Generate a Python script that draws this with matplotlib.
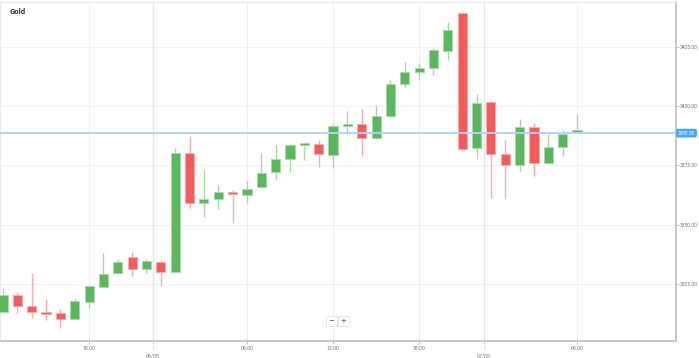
import matplotlib
matplotlib.use("Agg")
import matplotlib.pyplot as plt
import matplotlib.transforms as mtrans
import numpy as np

# ---- data ----
opens = [3313.3, 3320.3, 3315.7, 3313.2, 3312.6, 3310.2, 3317.5, 3323.8, 3329.5, 3336.5,
         3331.4, 3334.4, 3330.1, 3380.0, 3359.0, 3360.7, 3363.7, 3362.4, 3365.7, 3372.0,
         3377.7, 3383.6, 3383.9, 3379.5, 3391.7, 3392.4, 3386.6, 3395.7, 3409.3, 3414.5,
         3416.2, 3423.3, 3439.1, 3382.2, 3401.6, 3379.9, 3375.1, 3391.0, 3375.8, 3382.7,
         3389.0]
highs = [3323.3, 3321.5, 3329.5, 3318.5, 3314.3, 3318.8, 3324.6, 3338.2, 3335.4, 3338.4,
         3335.4, 3335.0, 3382.2, 3387.5, 3373.0, 3366.6, 3364.6, 3368.5, 3380.0, 3383.6,
         3384.0, 3384.5, 3385.5, 3393.0, 3397.9, 3398.6, 3400.4, 3411.0, 3418.4, 3418.0,
         3424.6, 3435.4, 3439.3, 3405.1, 3402.1, 3385.7, 3394.4, 3393.0, 3388.1, 3389.9,
         3396.5]
lows = [3313.0, 3312.6, 3310.5, 3309.8, 3306.3, 3310.0, 3314.7, 3323.5, 3329.3, 3328.3,
        3329.7, 3324.2, 3330.0, 3357.1, 3353.1, 3356.7, 3350.8, 3359.2, 3365.5, 3369.2,
        3372.0, 3377.2, 3374.3, 3373.7, 3388.3, 3378.8, 3386.4, 3395.5, 3407.9, 3411.0,
        3413.1, 3419.4, 3381.0, 3377.5, 3361.3, 3360.8, 3372.7, 3370.5, 3375.6, 3379.0,
        3388.8]
closes = [3320.3, 3315.7, 3313.0, 3312.4, 3310.1, 3317.7, 3324.0, 3329.3, 3334.2, 3331.2,
          3334.7, 3330.1, 3380.0, 3359.0, 3360.7, 3363.6, 3362.8, 3365.1, 3371.6, 3377.5,
          3383.4, 3384.3, 3379.6, 3391.4, 3392.5, 3386.6, 3395.7, 3409.3, 3414.5, 3415.9,
          3423.6, 3432.0, 3381.9, 3401.1, 3379.8, 3375.0, 3391.1, 3375.8, 3382.7, 3388.2,
          3389.7]
time_tick_pos = [6, 17, 23, 29, 40]
time_tick_labels = ["18:00", "06:00", "12:00", "18:00", "06:00"]
date_tick_pos = [10.45, 33.5]
date_tick_labels = ["06/05", "07/05"]
price_ticks = [3325, 3350, 3375, 3400, 3425]
current_price = 3388.58
title = "Gold"

# ---- style ----
GREEN = "#5cb85c"
RED = "#f65a5a"
GREEN_W = "#a9d9a9"
RED_W = "#f9aeae"
W, H = 699, 358

fig = plt.figure(figsize=(W / 100, H / 100), dpi=100)
fig.patch.set_facecolor("white")
ax_l, ax_r, ax_t, ax_b = 0, 676, 2, 341
ax = fig.add_axes([ax_l / W, 1 - ax_b / H, (ax_r - ax_l) / W, (ax_b - ax_t) / H])
ax.set_facecolor("white")

x = np.arange(len(opens))
o = np.array(opens); c = np.array(closes); hi = np.array(highs); lo = np.array(lows)
up = c >= o
body_bot = np.minimum(o, c)
body_h = np.maximum(np.abs(c - o), 0.7)

for mask, col, wcol in [(up, GREEN, GREEN_W), (~up, RED, RED_W)]:
    ax.vlines(x[mask], lo[mask], hi[mask], color=wcol, linewidth=1.0, zorder=2)
    ax.bar(x[mask], body_h[mask], bottom=body_bot[mask], width=0.64,
           color=col, edgecolor=wcol, linewidth=0.6, zorder=3)

px_per_idx = 14.35
ax.set_xlim(-3 / px_per_idx, (ax_r - 3) / px_per_idx)
ppu = 2.372
ax.set_ylim(3400 - (ax_b - 106) / ppu, 3400 + (106 - ax_t) / ppu)

# grid
for p in price_ticks:
    ax.axhline(p, color="#f2f2f2", linewidth=0.8, zorder=0)
for p in time_tick_pos:
    ax.axvline(p, color="#f0f0f0", linewidth=0.8, zorder=0)
for p in date_tick_pos:
    ax.axvline(p, color="#e6e6e6", linewidth=0.9, zorder=0)

# current price line
ax.axhline(current_price, color="#a9d5f5", linewidth=1.3, zorder=4)

# spines
for s in ["top", "left"]:
    ax.spines[s].set_color("#e9e9e9")
    ax.spines[s].set_linewidth(0.8)
ax.spines["bottom"].set_color("#c9c9c9")
ax.spines["bottom"].set_linewidth(1.6)
ax.spines["right"].set_color("#bdbdbd")
ax.spines["right"].set_linewidth(1.2)

# ticks
ax.yaxis.tick_right()
ax.set_yticks(price_ticks)
ax.set_yticklabels([f"{p:.2f}" for p in price_ticks], fontsize=3.6,
                   color="#777777", family="Roboto")
ax.tick_params(axis="y", length=2, width=0.5, color="#aaaaaa", pad=1)
ax.set_xticks(time_tick_pos)
ax.set_xticklabels(time_tick_labels, fontsize=3.8, color="#777777", family="Roboto")
ax.tick_params(axis="x", length=2, width=0.5, color="#aaaaaa", pad=1.5)

# date labels with dotted connectors
trans = mtrans.blended_transform_factory(ax.transData, ax.transAxes)
for p, lab in zip(date_tick_pos, date_tick_labels):
    ax.plot([p, p], [0, -0.025], transform=trans, color="#bbbbbb", linewidth=0.6,
            linestyle=(0, (1, 1)), clip_on=False)
    ax.text(p, -0.036, lab, transform=trans, ha="center", va="top", fontsize=3.8,
            color="#777777", family="Roboto")

# current price label
ytrans = mtrans.blended_transform_factory(ax.transAxes, ax.transData)
ax.text(1.003, current_price, f"{current_price:.2f}", transform=ytrans, ha="left",
        va="center", fontsize=3.4, color="white", family="Roboto", zorder=6,
        bbox=dict(boxstyle="round,pad=0.25,rounding_size=0.3", fc="#42a5f5", ec="#42a5f5"),
        clip_on=False)

# title
fig.text(10 / W, 1 - 11.5 / H, title, fontsize=5.6, fontweight="bold",
         color="#333333", ha="left", va="center", family="Roboto")

# zoom buttons
for cx, sym in [(331.5, "\u2212"), (343.5, "+")]:
    fig.text(cx / W, 1 - 321 / H, sym, fontsize=5, color="#444444", ha="center",
             va="center", family="DejaVu Sans",
             bbox=dict(boxstyle="square,pad=0.3", fc="white", ec="#e4e4e4", lw=0.6))

fig.savefig("out.png", dpi=100, facecolor="white")
